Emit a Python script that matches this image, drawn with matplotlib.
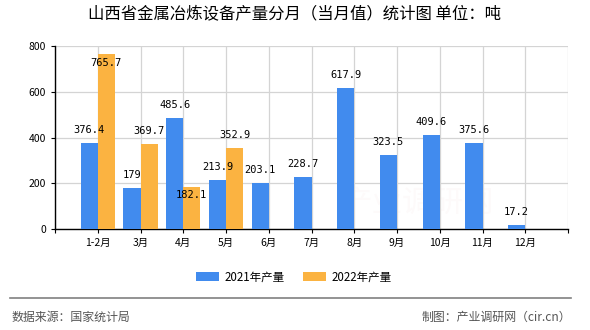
import matplotlib
matplotlib.use('Agg')
import matplotlib.pyplot as plt
from matplotlib.lines import Line2D
import numpy as np

plt.rcParams['font.family'] = ['Noto Sans CJK SC', 'DejaVu Sans']

# 数据
months = ['1-2月', '3月', '4月', '5月', '6月', '7月', '8月', '9月', '10月', '11月', '12月']
prod_2021 = [376.4, 179, 485.6, 213.9, 203.1, 228.7, 617.9, 323.5, 409.6, 375.6, 17.2]
prod_2022 = [765.7, 369.7, 182.1, 352.9]
yticks = [0, 200, 400, 600, 800]

blue = '#418bee'
orange = '#fbb341'

fig = plt.figure(figsize=(5.9, 3.3), dpi=100)
ax = fig.add_axes([55/590, 101/330, 513/590, 183/330])

x = np.arange(len(months))
w = 0.4
ax.bar(x - w/2, prod_2021, width=w, color=blue, label='2021年产量', zorder=3)
x2 = np.arange(len(prod_2022))
ax.bar(x2 + w/2, prod_2022, width=w, color=orange, label='2022年产量', zorder=3)

# 数值标签 (部分标签位置被原图挤开了)
def label(xpos, val, dy=13):
    txt = ('%.1f' % val).rstrip('0').rstrip('.')
    ax.annotate(txt, (xpos, val), xytext=(0, dy), textcoords='offset pixels',
                ha='center', va='center', fontsize=7.5,
                family='DejaVu Sans Mono', zorder=5)

for i, v in enumerate(prod_2021):
    label(i - w/2, v)
shift_2022 = [-9, 13, -8, 13]
for i, v in enumerate(prod_2022):
    label(i + w/2, v, shift_2022[i])

ax.set_xlim(-1, len(months))
ax.set_ylim(0, 800)
ax.set_yticks(yticks)
ax.set_xticks(np.arange(-1, len(months) + 1))
ax.set_xticklabels([''] + months + [''])
ax.tick_params(axis='both', labelsize=7.5, length=3, color='black')
ax.grid(True, color='#d4d4d4', linewidth=0.9, zorder=0)
ax.spines['top'].set_visible(False)
ax.spines['right'].set_visible(False)
ax.spines['left'].set_linewidth(1.0)
ax.spines['bottom'].set_linewidth(1.0)

# 水印
ax.text(7.5, 110, '产业调研网', fontsize=22, color='#e0b0b0', alpha=0.06,
        ha='center', va='center', zorder=1)

fig.text(0.5, 1 - 15/330, '山西省金属冶炼设备产量分月（当月值）统计图 单位：吨',
         ha='center', va='center', fontsize=11.8)

fig.legend(loc='center', bbox_to_anchor=(294/590, 1 - 277/330), ncol=2,
           frameon=False, fontsize=8.3, handlelength=2.0, handleheight=0.8,
           columnspacing=1.6, handletextpad=0.5)

fig.add_artist(Line2D([10/590, 571/590], [1 - 298/330, 1 - 298/330],
                      color='#808080', linewidth=1.2))
fig.text(12/590, 1 - 317/330, '数据来源：国家统计局', ha='left', va='center',
         fontsize=8.6, color='#555555')
fig.text(571/590, 1 - 317/330, '制图：产业调研网（cir.cn）', ha='right', va='center',
         fontsize=8.6, color='#555555')

fig.savefig('out.png', dpi=100)
